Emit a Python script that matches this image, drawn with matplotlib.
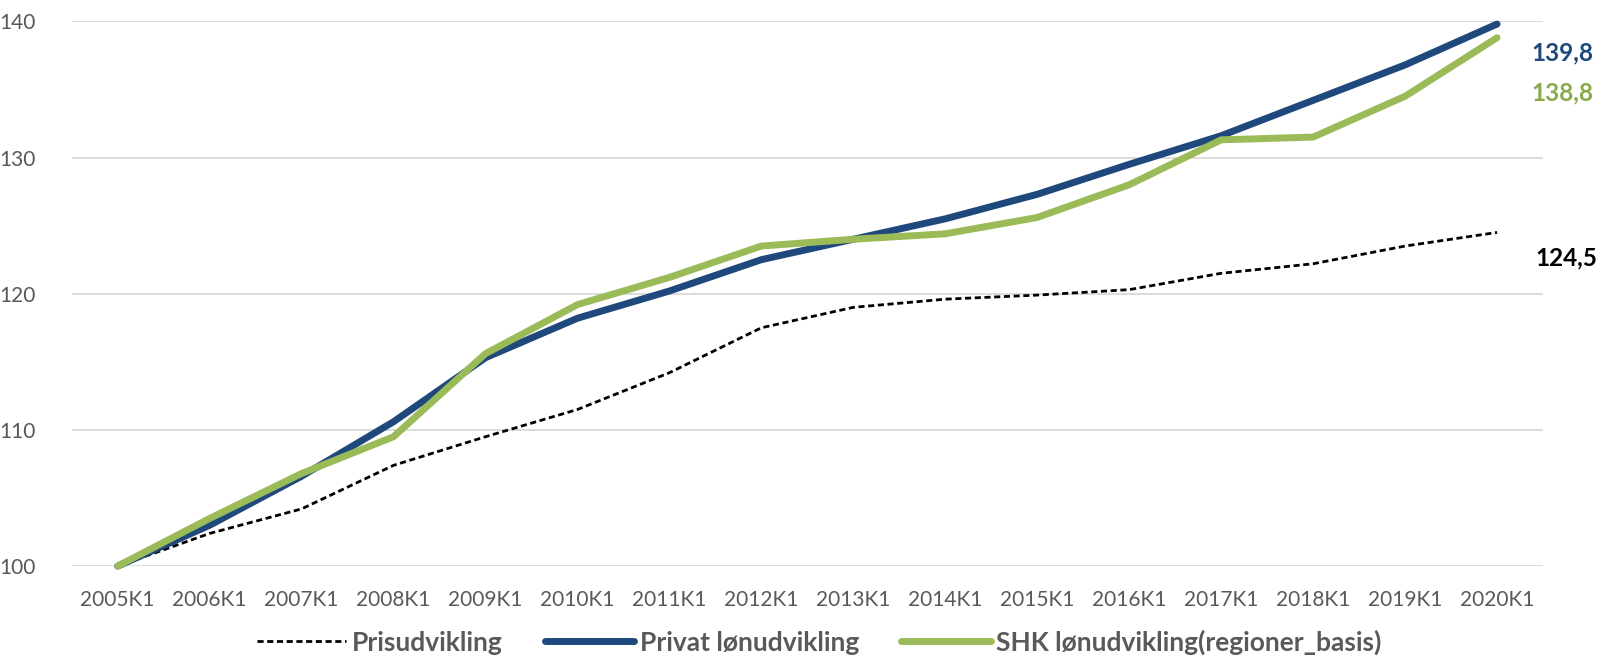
import numpy as np
import matplotlib
matplotlib.use("Agg")
import matplotlib.pyplot as plt

# kvartaler på x-aksen
kvartaler = [f"{aar}K1" for aar in range(2005, 2021)]

# indeks, 2005K1 = 100
prisudvikling = [100, 102.4, 104.2, 107.4, 109.5, 111.5, 114.2, 117.5,
                 119.0, 119.6, 119.9, 120.3, 121.5, 122.2, 123.5, 124.5]
privat_loen = [100, 103.0, 106.6, 110.6, 115.3, 118.2, 120.2, 122.5,
               124.0, 125.5, 127.3, 129.5, 131.6, 134.2, 136.8, 139.8]
shk_loen = [100, 103.5, 106.8, 109.5, 115.6, 119.2, 121.2, 123.5,
            124.0, 124.4, 125.6, 128.0, 131.3, 131.5, 134.5, 138.8]

serie_navne = ["Prisudvikling", "Privat lønudvikling",
               "SHK lønudvikling(regioner_basis)"]
slut_labels = ["124,5", "139,8", "138,8"]

BLAA = "#1f497d"
GROEN = "#9bbb59"
GRAA = "#595959"

plt.rcParams["font.family"] = ["Lato", "DejaVu Sans"]

fig = plt.figure(figsize=(16.03, 6.56), dpi=100)
ax = fig.add_axes([0.0447, 0.137, 0.9179, 0.8305])

x = np.arange(len(kvartaler))
l1, = ax.plot(x, prisudvikling, color="black", lw=2.0, ls=(0, (2.2, 1.3)),
              label=serie_navne[0], zorder=3)
l2, = ax.plot(x, privat_loen, color=BLAA, lw=5, solid_capstyle="round",
              label=serie_navne[1], zorder=4)
l3, = ax.plot(x, shk_loen, color=GROEN, lw=5, solid_capstyle="round",
              label=serie_navne[2], zorder=5)
for ln in (l1, l2, l3):
    ln.set_clip_on(False)

ax.set_xlim(-0.5, len(kvartaler) - 0.5)
ax.set_ylim(100, 140)
ax.set_yticks([100, 110, 120, 130, 140])
ax.set_xticks(x)
ax.set_xticklabels(kvartaler)
ax.grid(axis="y", color="#d9d9d9", lw=1.3)
ax.set_axisbelow(True)
for s in ax.spines.values():
    s.set_visible(False)
ax.tick_params(axis="both", length=0, labelsize=15, labelcolor=GRAA)
ax.tick_params(axis="x", pad=17)
ax.tick_params(axis="y", pad=26)

# værdier ved seneste kvartal
sidste = len(kvartaler) - 1
ax.annotate(slut_labels[1], (sidste, privat_loen[-1]), xytext=(65, -29),
            textcoords="offset pixels", ha="center", va="center",
            fontsize=17.5, fontweight="bold", color=BLAA)
ax.annotate(slut_labels[2], (sidste, shk_loen[-1]), xytext=(65, -55),
            textcoords="offset pixels", ha="center", va="center",
            fontsize=17.5, fontweight="bold", color="#8aaa4a")
ax.annotate(slut_labels[0], (sidste, prisudvikling[-1]), xytext=(69, -25),
            textcoords="offset pixels", ha="center", va="center",
            fontsize=17.5, fontweight="bold", color="black")

leg = fig.legend(handles=[l1, l2, l3], loc="center", ncol=3,
                 bbox_to_anchor=(0.511, 0.021), frameon=False,
                 prop={"size": 19, "weight": "bold"}, handlelength=3.4,
                 handletextpad=0.2, columnspacing=1.6)
for t in leg.get_texts():
    t.set_color(GRAA)

fig.savefig("out.png", dpi=100)
